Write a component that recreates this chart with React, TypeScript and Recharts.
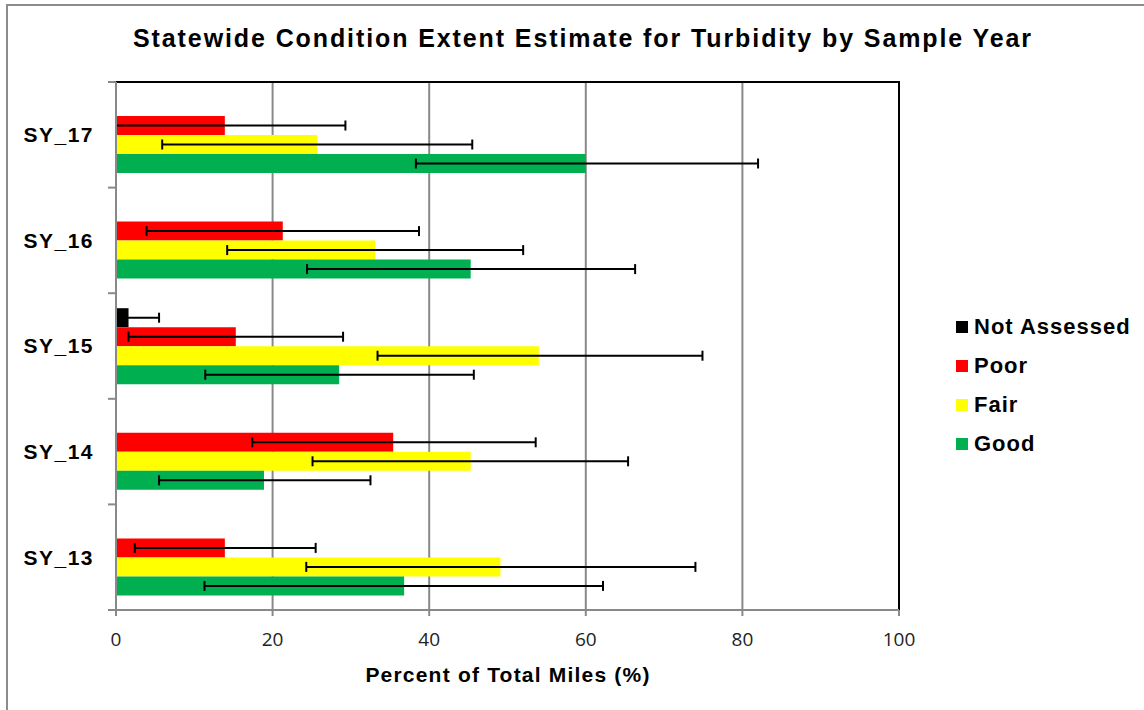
import React from 'react';
import { BarChart, Bar, XAxis, YAxis, CartesianGrid, ErrorBar, Legend, ReferenceArea } from 'recharts';

const years = ['SY_17', 'SY_16', 'SY_15', 'SY_14', 'SY_13'];

const notAssessed: (number | null)[] = [null, null, 1.6, null, null];
const notAssessedLow: (number | null)[] = [null, null, 0.3, null, null];
const notAssessedHigh: (number | null)[] = [null, null, 5.5, null, null];

const poor = [13.9, 21.3, 15.3, 35.4, 13.9];
const poorLow = [0, 3.9, 1.6, 17.4, 2.4];
const poorHigh = [29.3, 38.7, 29.0, 53.6, 25.5];

const fair = [25.7, 33.1, 54.0, 45.3, 49.1];
const fairLow = [5.9, 14.2, 33.4, 25.1, 24.3];
const fairHigh = [45.5, 52.0, 74.9, 65.4, 74.0];

const good = [60.0, 45.3, 28.5, 18.9, 36.8];
const goodLow = [38.3, 24.4, 11.4, 5.5, 11.3];
const goodHigh = [82.0, 66.3, 45.7, 32.5, 62.2];

const xTicks = [0, 20, 40, 60, 80, 100];

const seriesNames = ['Not Assessed', 'Poor', 'Fair', 'Good'];
const seriesColors = ['#000000', '#FF0000', '#FFFF00', '#00B050'];

const err = (v: number | null, lo: number | null, hi: number | null) =>
  v == null || lo == null || hi == null ? null : [v - lo, hi - v];

const data = years.map((year, i) => ({
  year,
  na: notAssessed[i],
  naErr: err(notAssessed[i], notAssessedLow[i], notAssessedHigh[i]),
  poor: poor[i],
  poorErr: err(poor[i], poorLow[i], poorHigh[i]),
  fair: fair[i],
  fairErr: err(fair[i], fairLow[i], fairHigh[i]),
  good: good[i],
  goodErr: err(good[i], goodLow[i], goodHigh[i]),
}));

const GRAY = '#898989';
const BOLD_FONT = '"Liberation Sans", Arial, sans-serif';

function YTick(props: any) {
  const { x, y, payload, index } = props;
  const half = payload && typeof payload.offset === 'number' && payload.offset > 0 ? payload.offset : 52.8;
  return (
    <g>
      <line x1={x - 8} x2={x} y1={y - half} y2={y - half} stroke={GRAY} strokeWidth={2} />
      {index === years.length - 1 && (
        <line x1={x - 8} x2={x} y1={y + half} y2={y + half} stroke={GRAY} strokeWidth={2} />
      )}
      <text
        x={x - 22}
        y={y}
        dy="0.35em"
        textAnchor="end"
        fontSize={21}
        fontWeight="bold"
        letterSpacing={1.5}
        fontFamily={BOLD_FONT}
        fill="#000"
      >
        {payload.value}
      </text>
    </g>
  );
}

function LegendContent() {
  return (
    <div>
      {seriesNames.map((name, i) => (
        <div key={name} style={{ display: 'flex', alignItems: 'center', height: 39 }}>
          <span style={{ display: 'inline-block', width: 12, height: 12, background: seriesColors[i], marginRight: 6 }} />
          <span
            style={{
              fontSize: 22,
              fontWeight: 'bold',
              letterSpacing: 1,
              fontFamily: BOLD_FONT,
              color: '#000',
              lineHeight: '39px',
            }}
          >
            {name}
          </span>
        </div>
      ))}
    </div>
  );
}

function TopRightBorder(props: any) {
  const { x, y, width, height } = props;
  return <path d={`M${x - 3},${y} H${x + width} V${y + height}`} fill="none" stroke="#000" strokeWidth={2} />;
}

export default function App() {
  return (
    <div style={{ position: 'absolute', left: 0, top: 0, width: 1144, height: 710, background: '#fff', overflow: 'hidden' }}>
      <div
        style={{
          position: 'absolute',
          left: 6,
          top: 4,
          width: 1140,
          height: 708,
          borderTop: '2px solid #8c8c8c',
          borderLeft: '2px solid #8c8c8c',
        }}
      />
      <div
        style={{
          position: 'absolute',
          left: 0,
          top: 22,
          width: 1166,
          textAlign: 'center',
          fontFamily: BOLD_FONT,
          fontWeight: 'bold',
          fontSize: 25,
          letterSpacing: 1.9,
          lineHeight: '32px',
          color: '#000',
        }}
      >
        Statewide Condition Extent Estimate for Turbidity by Sample Year
      </div>
      <div
        style={{
          position: 'absolute',
          left: 0,
          top: 660,
          width: 1016,
          textAlign: 'center',
          fontFamily: BOLD_FONT,
          fontWeight: 'bold',
          fontSize: 21,
          letterSpacing: 1.2,
          lineHeight: '30px',
          color: '#000',
        }}
      >
        Percent of Total Miles (%)
      </div>
      <div style={{ position: 'absolute', left: 0, top: 0 }}>
        <BarChart
          layout="vertical"
          width={1144}
          height={710}
          data={data}
          margin={{ top: 82, right: 245, bottom: 70, left: 0 }}
          barCategoryGap={15}
          barGap={0}
        >
          <CartesianGrid horizontal={false} stroke={GRAY} strokeWidth={2} />
          <XAxis
            type="number"
            domain={[0, 100]}
            ticks={xTicks}
            allowDataOverflow
            axisLine={{ stroke: GRAY, strokeWidth: 2 }}
            tickLine={{ stroke: GRAY, strokeWidth: 2 }}
            tickSize={6}
            tickMargin={17}
            tick={{ fontSize: 19, fill: '#222', fontFamily: '"Open Sans", sans-serif' }}
            height={30}
          />
          <YAxis
            type="category"
            dataKey="year"
            width={116}
            interval={0}
            axisLine={{ stroke: GRAY, strokeWidth: 2 }}
            tickLine={false}
            tickSize={0}
            tickMargin={0}
            tick={<YTick />}
          />
          <ReferenceArea x1={0} x2={100} ifOverflow="visible" shape={<TopRightBorder />} />
          <Legend
            layout="vertical"
            align="center"
            verticalAlign="middle"
            content={<LegendContent />}
            wrapperStyle={{ left: 956, top: 307, width: 188, right: 'auto', bottom: 'auto' }}
          />
          <Bar dataKey="na" name="Not Assessed" fill={seriesColors[0]} isAnimationActive={false}>
            <ErrorBar dataKey="naErr" direction="x" width={5} stroke="#000" strokeWidth={2} />
          </Bar>
          <Bar dataKey="poor" name="Poor" fill={seriesColors[1]} isAnimationActive={false}>
            <ErrorBar dataKey="poorErr" direction="x" width={5} stroke="#000" strokeWidth={2} />
          </Bar>
          <Bar dataKey="fair" name="Fair" fill={seriesColors[2]} isAnimationActive={false}>
            <ErrorBar dataKey="fairErr" direction="x" width={5} stroke="#000" strokeWidth={2} />
          </Bar>
          <Bar dataKey="good" name="Good" fill={seriesColors[3]} isAnimationActive={false}>
            <ErrorBar dataKey="goodErr" direction="x" width={5} stroke="#000" strokeWidth={2} />
          </Bar>
        </BarChart>
      </div>
    </div>
  );
}
